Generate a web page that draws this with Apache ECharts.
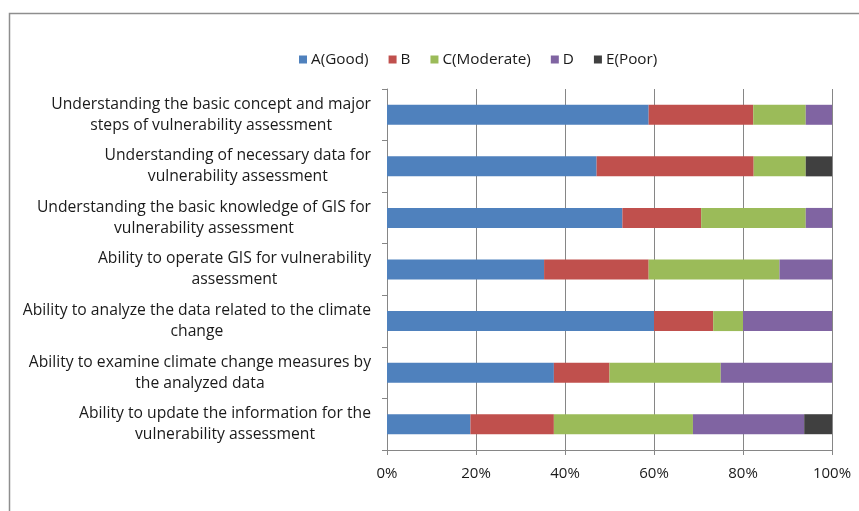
<!DOCTYPE html>
<html>
<head>
<meta charset="utf-8">
<script src="https://cdn.jsdelivr.net/npm/echarts@6/dist/echarts.min.js"></script>
<style>
  html, body { margin: 0; padding: 0; background: #fff; }
  #chart { width: 859px; height: 511px; }
</style>
</head>
<body>
<div id="chart"></div>
<script>
// Survey items (top to bottom)
const categories = [
  'Understanding the basic concept and major\nsteps of vulnerability assessment',
  'Understanding of necessary data for\nvulnerability assessment',
  'Understanding the basic knowledge of GIS for\nvulnerability assessment',
  'Ability to operate GIS for vulnerability\nassessment',
  'Ability to analyze the data related to the climate\nchange',
  'Ability to examine climate change measures by\nthe analyzed data',
  'Ability to update the information for the\nvulnerability assessment'
];

// Share of responses per rating (%)
const gradeA = [58.8, 47.1, 52.9, 35.3, 60.0, 37.5, 18.75];
const gradeB = [23.5, 35.3, 17.7, 23.5, 13.3, 12.5, 18.75];
const gradeC = [11.8, 11.7, 23.5, 29.4, 6.7, 25.0, 31.25];
const gradeD = [5.9, 0, 5.9, 11.8, 20.0, 25.0, 25.0];
const gradeE = [0, 5.9, 0, 0, 0, 0, 6.25];

const seriesNames = ['A(Good)', 'B', 'C(Moderate)', 'D', 'E(Poor)'];
const seriesColors = ['#4F81BD', '#C0504D', '#9BBB59', '#8064A2', '#404040'];
const xTicks = [0, 20, 40, 60, 80, 100];

const fontFamily = '"Open Sans", sans-serif';
const textColor = '#1a1a1a';
const chart = echarts.init(document.getElementById('chart'), null, { renderer: 'canvas' });

const seriesData = [gradeA, gradeB, gradeC, gradeD, gradeE];

chart.setOption({
  animation: false,
  backgroundColor: '#fff',
  textStyle: { fontFamily: fontFamily },
  graphic: [{
    type: 'polyline',
    shape: { points: [[9.5, 511], [9.5, 13.5], [859, 13.5]] },
    style: { stroke: '#8e8e8e', lineWidth: 1.5, fill: null },
    silent: true
  }],
  legend: {
    left: 294,
    top: 47,
    itemWidth: 8,
    itemHeight: 8,
    itemGap: 20,
    icon: 'rect',
    textStyle: { fontSize: 15.3, color: textColor, fontFamily: fontFamily, padding: [0, 0, 0, -1] },
    data: seriesNames
  },
  grid: { left: 387, right: 27, top: 89, bottom: 61, containLabel: false },
  xAxis: {
    type: 'value',
    min: xTicks[0],
    max: xTicks[xTicks.length - 1],
    interval: 20,
    axisLine: { show: true, lineStyle: { color: '#868686', width: 1 } },
    axisTick: { show: true, length: 5, lineStyle: { color: '#868686' } },
    splitLine: { show: true, lineStyle: { color: '#868686', width: 1 } },
    axisLabel: {
      formatter: v => v + '%',
      fontSize: 15,
      color: textColor,
      margin: 16,
      fontFamily: fontFamily
    }
  },
  yAxis: {
    type: 'category',
    inverse: true,
    data: categories,
    axisLine: { show: true, lineStyle: { color: '#868686', width: 1 } },
    axisTick: { show: true, length: 5, lineStyle: { color: '#868686' } },
    axisLabel: {
      margin: 16,
      align: 'right',
      // each line of a label is centred within its block
      formatter: v => v.split('\n').map(s => '{c|' + s + '}').join('\n'),
      rich: {
        c: {
          align: 'center',
          fontSize: 15.7,
          lineHeight: 21,
          color: textColor,
          fontFamily: fontFamily
        }
      }
    }
  },
  series: seriesNames.map((name, i) => ({
    name: name,
    type: 'bar',
    stack: 'total',
    barWidth: 20,
    itemStyle: { color: seriesColors[i] },
    data: seriesData[i]
  }))
});
</script>
</body>
</html>
